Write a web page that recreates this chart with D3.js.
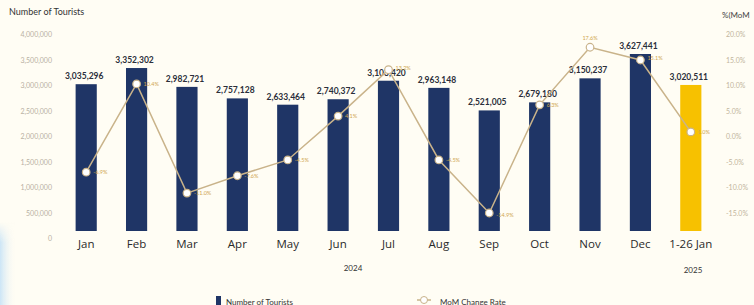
<!DOCTYPE html>
<html lang="en">
<head>
    <meta charset="UTF-8">
    <title>Number of Tourists</title>
    <style>
        body { margin: 0; background: #fffdf4; }
        text { font-family: 'Lato', sans-serif; }
        .tick-left { font-size: 7px; fill: #b9b1a3; }
        .tick-right { font-size: 7px; fill: #c2b59c; }
        .month { font-size: 11.5px; fill: #2a2a2a; font-family: 'Open Sans', sans-serif; }
        .value { font-size: 8.5px; font-weight: bold; fill: #2b2f3a; }
        .rate { font-size: 5.5px; fill: #cfa64e; }
    </style>
</head>
<body>
<script src="https://d3js.org/d3.v7.min.js"></script>
<script>

    const size = {'width': 754, 'height': 305};
    const months = ['Jan', 'Feb', 'Mar', 'Apr', 'May', 'Jun', 'Jul', 'Aug', 'Sep', 'Oct', 'Nov', 'Dec', '1-26 Jan'];
    const tourists = [3035296, 3352302, 2982721, 2757128, 2633464, 2740372, 3103420, 2963148, 2521005, 2679180, 3150237, 3627441, 3020511];
    const momRate = [-6.9, 10.4, -11.0, -7.6, -4.5, 4.1, 13.2, -4.5, -14.9, 6.3, 17.6, 15.1, 1.0];
    const leftTicks = [0, 500000, 1000000, 1500000, 2000000, 2500000, 3000000, 3500000, 4000000];
    const rightTicks = [-15, -10, -5, 0, 5, 10, 15, 20];

    let svg = d3.select('body').append('svg')
        .attr('width', size.width)
        .attr('height', size.height);

    let defs = svg.append('defs');
    let edge = defs.append('linearGradient')
        .attr('id', 'edge')
        .attr('x1', 0).attr('x2', 1).attr('y1', 0).attr('y2', 0);
    edge.append('stop').attr('offset', '0%').attr('stop-color', '#c6e2f6').attr('stop-opacity', 0.9);
    edge.append('stop').attr('offset', '100%').attr('stop-color', '#fffdf4').attr('stop-opacity', 0);
    let fade = defs.append('linearGradient')
        .attr('id', 'fade')
        .attr('x1', 0).attr('x2', 0).attr('y1', 0).attr('y2', 1);
    fade.append('stop').attr('offset', '0%').attr('stop-color', '#fff').attr('stop-opacity', 0);
    fade.append('stop').attr('offset', '25%').attr('stop-color', '#fff').attr('stop-opacity', 1);
    fade.append('stop').attr('offset', '100%').attr('stop-color', '#fff').attr('stop-opacity', 1);
    defs.append('mask')
        .attr('id', 'edgeMask')
        .append('rect')
        .attr('x', 0).attr('y', 222)
        .attr('width', 16).attr('height', 83)
        .style('fill', 'url(#fade)');

    defs.append('clipPath')
        .attr('id', 'plot')
        .append('rect')
        .attr('x', 0).attr('y', 0)
        .attr('width', size.width).attr('height', 231);

    svg.append('rect')
        .attr('width', size.width)
        .attr('height', size.height)
        .style('fill', '#fffdf4');

    svg.append('rect')
        .attr('x', 0).attr('y', 222)
        .attr('width', 16).attr('height', 83)
        .attr('mask', 'url(#edgeMask)')
        .style('fill', 'url(#edge)');

    let x = d3.scaleBand()
        .domain(months)
        .range([61, 716])
        .paddingInner(0.58)
        .paddingOuter(0.29);

    let y = d3.scaleLinear()
        .domain([0, 4000000])
        .range([239, 35]);

    let yRate = d3.scaleLinear()
        .domain([-20, 20])
        .range([239, 35]);

    // titles
    svg.append('text')
        .attr('x', 9).attr('y', 15)
        .text('Number of Tourists')
        .style('font-size', '9px')
        .style('fill', '#333');

    svg.append('text')
        .attr('x', 722).attr('y', 18)
        .text('%(MoM')
        .style('font-size', '8px')
        .style('fill', '#444');

    // left axis
    svg.selectAll('.tick-left')
        .data(leftTicks)
        .enter().append('text')
        .attr('class', 'tick-left')
        .attr('x', 52)
        .attr('y', function(d) { return y(d); })
        .attr('dy', '0.35em')
        .attr('text-anchor', 'end')
        .text(function(d) { return d3.format(',')(d); });

    // right axis
    svg.selectAll('.tick-right')
        .data(rightTicks)
        .enter().append('text')
        .attr('class', 'tick-right')
        .attr('x', 726)
        .attr('y', function(d) { return yRate(d); })
        .attr('dy', '0.35em')
        .text(function(d) { return d.toFixed(1) + '%'; });

    // bars
    let bars = svg.append('g').attr('clip-path', 'url(#plot)');
    bars.selectAll('rect')
        .data(tourists)
        .enter().append('rect')
        .attr('x', function(d, i) { return x(months[i]); })
        .attr('y', function(d) { return y(d); })
        .attr('width', x.bandwidth())
        .attr('height', function(d) { return y(0) - y(d); })
        .style('fill', function(d, i) { return i === months.length - 1 ? '#f7c100' : '#1f3566'; });

    svg.selectAll('.value')
        .data(tourists)
        .enter().append('text')
        .attr('class', 'value')
        .attr('x', function(d, i) { return x(months[i]) + x.bandwidth() / 2 - 2; })
        .attr('y', function(d) { return y(d) - 5; })
        .attr('text-anchor', 'middle')
        .text(function(d) { return d3.format(',')(d); });

    // mom line
    let cx = function(d, i) { return x(months[i]) + x.bandwidth() / 2; };

    svg.append('path')
        .datum(momRate)
        .attr('d', d3.line()
            .x(cx)
            .y(function(d) { return yRate(d); }))
        .style('fill', 'none')
        .style('stroke', '#c9b38a')
        .style('stroke-width', '1.5px');

    svg.selectAll('.dot')
        .data(momRate)
        .enter().append('circle')
        .attr('class', 'dot')
        .attr('cx', cx)
        .attr('cy', function(d) { return yRate(d); })
        .attr('r', 3.8)
        .style('fill', '#fff')
        .style('stroke', '#c9b38a')
        .style('stroke-width', '1.2px');

    svg.selectAll('.rate')
        .data(momRate)
        .enter().append('text')
        .attr('class', 'rate')
        .attr('x', function(d, i) { return i === 10 ? cx(d, i) : cx(d, i) + 7; })
        .attr('y', function(d, i) {
            if (i === 10) return yRate(d) - 9;
            if (i === 11 || i === 6) return yRate(d) - 2;
            if (i === 8) return yRate(d) + 2;
            return yRate(d);
        })
        .attr('dy', '0.35em')
        .attr('text-anchor', function(d, i) { return i === 10 ? 'middle' : 'start'; })
        .text(function(d) { return d.toFixed(1) + '%'; });

    // month labels
    svg.selectAll('.month')
        .data(months)
        .enter().append('text')
        .attr('class', 'month')
        .attr('x', function(d) { return x(d) + x.bandwidth() / 2; })
        .attr('y', 248)
        .attr('text-anchor', 'middle')
        .text(function(d) { return d; });

    svg.append('text')
        .attr('x', 353).attr('y', 271)
        .attr('text-anchor', 'middle')
        .text('2024')
        .style('font-size', '8px')
        .style('fill', '#333');

    svg.append('text')
        .attr('x', 693).attr('y', 273)
        .attr('text-anchor', 'middle')
        .text('2025')
        .style('font-size', '8px')
        .style('fill', '#333');

    // legend
    let legend = svg.append('g');
    legend.append('rect')
        .attr('x', 216).attr('y', 296)
        .attr('width', 5).attr('height', 10)
        .style('fill', '#1f3566');
    legend.append('text')
        .attr('x', 226).attr('y', 305)
        .text('Number of Tourists')
        .style('font-size', '8px')
        .style('fill', '#333');
    legend.append('line')
        .attr('x1', 417).attr('x2', 431)
        .attr('y1', 300).attr('y2', 300)
        .style('stroke', '#c9b38a')
        .style('stroke-width', '1.5px');
    legend.append('circle')
        .attr('cx', 424).attr('cy', 300)
        .attr('r', 3.5)
        .style('fill', '#fff')
        .style('stroke', '#c9b38a');
    legend.append('text')
        .attr('x', 440).attr('y', 305)
        .text('MoM Change Rate')
        .style('font-size', '8px')
        .style('fill', '#333');

</script>
</body>
</html>
